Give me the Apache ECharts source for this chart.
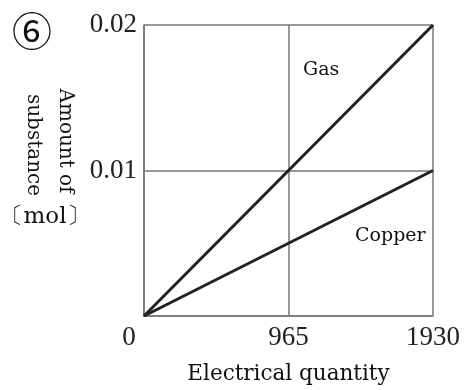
<!DOCTYPE html>
<html>
<head>
<meta charset="utf-8">
<script src="https://cdn.jsdelivr.net/npm/echarts@6/dist/echarts.min.js"></script>
<style>html,body{margin:0;padding:0;background:#fff;}#c{width:465px;height:390px;}</style>
</head>
<body>
<div id="c"></div>
<script>
var xTicks = [0, 965, 1930];
var yTicks = [0, 0.01, 0.02];
var gasX = [0, 965, 1930];
var gasY = [0, 0.01, 0.02];
var copperX = [0, 965, 1930];
var copperY = [0, 0.005, 0.01];
var seriesNames = ['Gas', 'Copper'];
var xName = 'Electrical quantity';
var yName1 = 'Amount of';
var yName2 = 'substance';
var yUnit = '〔mol〕';
var panelMark = '⑥';

var serif = '"DejaVu Serif", "Liberation Serif", serif';
var tickFont = '"Liberation Serif", serif';
var chart = echarts.init(document.getElementById('c'));
function pairs(xs, ys){ return xs.map(function(x,i){ return [x, ys[i]]; }); }
chart.setOption({
  animation: false,
  backgroundColor: '#fff',
  grid: {left: 144, top: 25, right: 32, bottom: 74, outerBoundsMode: 'none', containLabel: false},
  xAxis: {
    type: 'value', min: xTicks[0], max: xTicks[2], interval: xTicks[1] - xTicks[0],
    name: xName, nameLocation: 'middle', nameGap: 47,
    nameTextStyle: {fontFamily: serif, fontSize: 21.5, color: '#111'},
    axisLine: {lineStyle: {color: '#777', width: 1.5}},
    axisTick: {show: false},
    splitLine: {lineStyle: {color: '#777', width: 1.5}},
    axisLabel: {fontFamily: tickFont, fontSize: 27, color: '#222', margin: 8,
      formatter: function(v){ return v === 0 ? '{z|0}' : String(v); },
      rich: {z: {fontFamily: tickFont, fontSize: 27, color: '#222', padding: [0, 30, 0, 0]}}}
  },
  yAxis: {
    type: 'value', min: yTicks[0], max: yTicks[2], interval: yTicks[1] - yTicks[0],
    axisLine: {show: true, lineStyle: {color: '#777', width: 1.5}},
    axisTick: {show: false},
    splitLine: {lineStyle: {color: '#777', width: 1.5}},
    axisLabel: {fontFamily: tickFont, fontSize: 27, color: '#222', margin: 7,
      formatter: function(v){ return v === 0 ? '' : v.toFixed(2); }}
  },
  series: [
    {name: seriesNames[0], type: 'line', data: pairs(gasX, gasY), symbol: 'none',
     lineStyle: {color: '#222', width: 3}},
    {name: seriesNames[1], type: 'line', data: pairs(copperX, copperY), symbol: 'none',
     lineStyle: {color: '#222', width: 3}}
  ],
  graphic: [
    {type: 'text', left: 303, top: 61, style: {text: seriesNames[0], font: '19px ' + serif, fill: '#111'}},
    {type: 'text', left: 355, top: 227, style: {text: seriesNames[1], font: '19px ' + serif, fill: '#111'}},
    {type: 'text', x: 32, y: 31, style: {text: panelMark, font: '40px "Noto Sans CJK JP"', fill: '#111', align: 'center', verticalAlign: 'middle'}},
    {type: 'text', x: 65, y: 141, rotation: -Math.PI/2, style: {text: yName1, font: '20px ' + serif, fill: '#111', align: 'center', verticalAlign: 'middle'}},
    {type: 'text', x: 33, y: 145, rotation: -Math.PI/2, style: {text: yName2, font: '20px ' + serif, fill: '#111', align: 'center', verticalAlign: 'middle'}},
    {type: 'text', x: 45, y: 217, style: {text: yUnit, font: '23px ' + serif, fill: '#111', align: 'center', verticalAlign: 'middle'}}
  ]
});
</script>
</body>
</html>
